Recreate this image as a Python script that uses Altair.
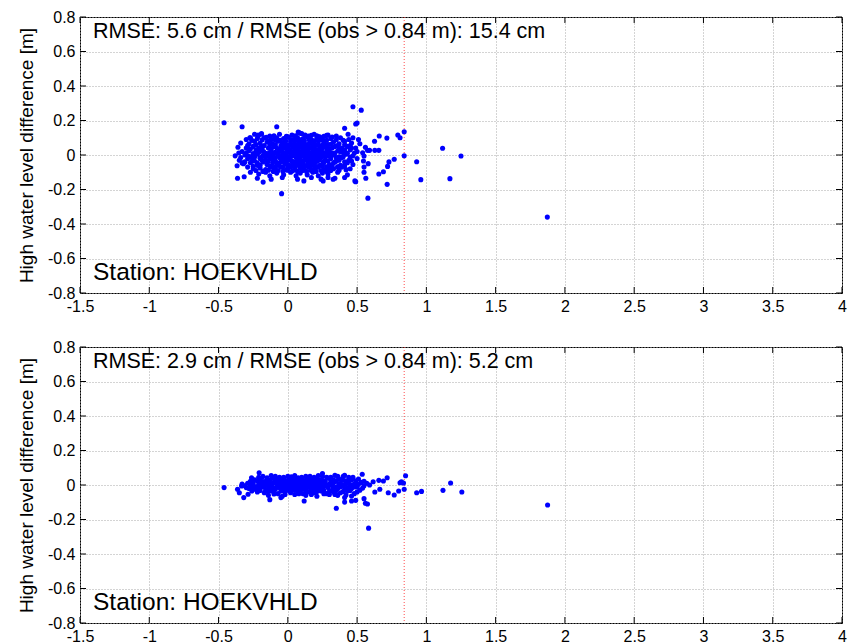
import altair as alt
import pandas as pd

x_ticks = [-1.5, -1, -0.5, 0, 0.5, 1, 1.5, 2, 2.5, 3, 3.5, 4]
y_ticks = [-0.8, -0.6, -0.4, -0.2, 0, 0.2, 0.4, 0.6, 0.8]
threshold = [0.84]
station_label = "Station: HOEKVHLD"
y_title = "High water level difference [m]"
rmse_labels = ["RMSE: 5.6 cm / RMSE (obs > 0.84 m): 15.4 cm",
               "RMSE: 2.9 cm / RMSE (obs > 0.84 m): 5.2 cm"]

# top panel: scattered points
top_outer = [(-0.46,0.187),(-0.33,0.164),(-0.08,0.164),(0.47,0.28),(0.53,0.26),(0.49,0.18),(0.50,0.185),
    (0.41,0.155),(0.435,0.12),(0.51,0.09),(0.66,0.11),(0.715,0.098),(0.794,0.116),(0.81,0.10),(0.84,0.135),
    (0.626,0.08),(0.84,-0.004),(1.117,0.039),(1.25,-0.006),(0.93,-0.039),(0.96,-0.143),(1.17,-0.137),
    (0.768,-0.025),(0.73,-0.04),(0.72,-0.066),(0.69,-0.097),(0.657,-0.11),(0.717,-0.17),(0.578,-0.25),
    (-0.045,-0.224),(0.484,-0.15),(0.49,-0.155),(0.563,-0.135),(0.55,-0.1),(0.55,-0.07),(0.58,-0.05),
    (0.546,-0.035),(0.575,0.027),(0.59,0.027),(0.628,0.027),(0.657,0.027),(0.54,0.013),(0.55,-0.006),
    (-0.363,-0.135),(-0.315,-0.126),(-0.366,-0.062),(-0.33,-0.046),(-0.315,-0.042),(-0.354,0.012),
    (-0.178,-0.157),(-0.274,0.10),(-0.214,0.116),(-0.19,0.12),(0.28,0.114),(0.075,0.133),(0.087,0.126),
    (0.17,0.114),(0.22,0.106),(0.327,-0.141),(0.34,-0.135),(0.255,-0.15),(0.116,-0.15),(0.41,-0.13),
    (0.42,-0.085),(0.36,-0.07),(1.873,-0.36)]

# top panel: dense core
top_core = [(-0.24,0.12),(-0.19,0.125),(-0.13,0.11),(-0.06,0.12),(0.03,0.115),(0.08,0.13),(0.10,0.125),
    (0.15,0.11),(0.19,0.12),(0.23,0.105),(0.29,0.115),(0.35,0.11),
    (-0.30,0.09),(-0.27,0.10),(-0.22,0.095),(-0.17,0.1),(-0.12,0.09),(-0.08,0.1),(-0.03,0.095),(0.0,0.105),
    (0.04,0.09),(0.07,0.1),(0.11,0.095),(0.14,0.105),(0.17,0.09),(0.21,0.1),(0.25,0.09),(0.31,0.095),
    (0.38,0.1),(0.44,0.09),(0.47,0.1),
    (-0.34,0.07),(-0.28,0.065),(-0.24,0.08),(-0.20,0.07),(-0.15,0.075),(-0.11,0.065),(-0.07,0.08),
    (-0.04,0.07),(-0.01,0.06),(0.02,0.075),(0.05,0.065),(0.08,0.08),(0.10,0.07),(0.13,0.06),(0.16,0.075),
    (0.19,0.065),(0.22,0.08),(0.26,0.07),(0.29,0.06),(0.33,0.075),(0.37,0.065),(0.41,0.08),(0.46,0.07),
    (0.52,0.065),
    (-0.36,0.045),(-0.30,0.04),(-0.25,0.05),(-0.21,0.04),(-0.17,0.055),(-0.14,0.04),(-0.10,0.05),
    (-0.06,0.035),(-0.03,0.05),(0.0,0.04),(0.03,0.055),(0.06,0.04),(0.09,0.05),(0.12,0.035),(0.14,0.05),
    (0.17,0.04),(0.20,0.055),(0.23,0.04),(0.27,0.05),(0.30,0.035),(0.34,0.05),(0.39,0.04),(0.43,0.05),
    (0.49,0.04),(0.56,0.045),
    (-0.33,0.02),(-0.28,0.025),(-0.23,0.015),(-0.19,0.03),(-0.16,0.01),(-0.12,0.025),(-0.09,0.015),
    (-0.05,0.03),(-0.02,0.01),(0.01,0.025),(0.04,0.015),(0.07,0.03),(0.09,0.01),(0.11,0.02),(0.13,0.03),
    (0.15,0.015),(0.18,0.025),(0.21,0.01),(0.24,0.03),(0.28,0.02),(0.32,0.01),(0.36,0.025),(0.40,0.015),
    (0.45,0.03),(0.50,0.02),
    (-0.38,-0.005),(-0.31,0.0),(-0.26,-0.01),(-0.22,0.005),(-0.18,-0.005),(-0.14,0.0),(-0.11,-0.01),
    (-0.07,0.005),(-0.04,-0.005),(-0.01,0.0),(0.02,-0.01),(0.05,0.005),(0.08,-0.005),(0.10,0.0),
    (0.12,-0.01),(0.14,0.005),(0.16,-0.005),(0.19,0.0),(0.22,-0.01),(0.25,0.005),(0.29,-0.005),(0.33,0.0),
    (0.37,-0.01),(0.42,0.005),(0.47,-0.005),
    (-0.35,-0.03),(-0.29,-0.02),(-0.24,-0.035),(-0.20,-0.015),(-0.16,-0.03),(-0.13,-0.02),(-0.09,-0.035),
    (-0.06,-0.015),(-0.03,-0.03),(0.0,-0.02),(0.03,-0.035),(0.06,-0.015),(0.08,-0.025),(0.11,-0.035),
    (0.13,-0.015),(0.16,-0.03),(0.18,-0.02),(0.21,-0.035),(0.24,-0.015),(0.27,-0.03),(0.31,-0.02),
    (0.35,-0.035),(0.39,-0.015),(0.44,-0.03),(0.50,-0.02),
    (-0.32,-0.05),(-0.27,-0.045),(-0.22,-0.06),(-0.18,-0.04),(-0.15,-0.055),(-0.11,-0.045),(-0.08,-0.06),
    (-0.05,-0.04),(-0.02,-0.05),(0.01,-0.06),(0.04,-0.045),(0.07,-0.055),(0.10,-0.04),(0.12,-0.06),
    (0.15,-0.045),(0.17,-0.055),(0.20,-0.04),(0.23,-0.06),(0.26,-0.045),(0.30,-0.055),(0.34,-0.04),
    (0.38,-0.06),(0.43,-0.045),(0.47,-0.055),
    (-0.29,-0.07),(-0.25,-0.08),(-0.20,-0.075),(-0.16,-0.085),(-0.12,-0.07),(-0.09,-0.08),(-0.05,-0.07),
    (-0.01,-0.085),(0.02,-0.07),(0.05,-0.08),(0.09,-0.075),(0.12,-0.085),(0.15,-0.07),(0.19,-0.08),
    (0.22,-0.07),(0.26,-0.085),(0.30,-0.075),(0.33,-0.08),(0.39,-0.07),(0.45,-0.08),
    (-0.27,-0.10),(-0.21,-0.11),(-0.16,-0.10),(-0.13,-0.12),(-0.08,-0.105),(-0.03,-0.115),(0.02,-0.10),
    (0.06,-0.12),(0.09,-0.105),(0.14,-0.115),(0.18,-0.10),(0.22,-0.12),(0.25,-0.105),(0.29,-0.11),
    (0.36,-0.10),(0.43,-0.115),
    (-0.22,-0.135),(-0.12,-0.14),(-0.04,-0.13),(0.07,-0.14),(0.17,-0.13),(0.24,-0.14),(0.29,-0.13)]

# top panel: dense core, in-between points
top_core2 = [(-0.215,0.108),(-0.155,0.102),(-0.10,0.112),(-0.01,0.108),(0.055,0.112),(0.125,0.115),
    (0.21,0.112),(0.26,0.108),(0.32,0.104),
    (-0.26,0.085),(-0.185,0.088),(-0.135,0.082),(-0.095,0.09),(-0.055,0.085),(-0.015,0.082),(0.02,0.09),
    (0.055,0.085),(0.09,0.088),(0.12,0.082),(0.155,0.088),(0.19,0.082),(0.235,0.088),(0.28,0.085),
    (0.35,0.088),(0.40,0.085),
    (-0.29,0.055),(-0.23,0.06),(-0.19,0.052),(-0.13,0.058),(-0.09,0.06),(-0.05,0.055),(-0.02,0.062),
    (0.015,0.058),(0.045,0.05),(0.075,0.06),(0.11,0.058),(0.15,0.062),(0.18,0.055),(0.22,0.06),(0.25,0.058),
    (0.31,0.062),(0.36,0.055),(0.41,0.06),(0.45,0.055),
    (-0.27,0.035),(-0.23,0.03),(-0.185,0.04),(-0.12,0.035),(-0.08,0.04),(-0.045,0.03),(-0.015,0.038),
    (0.015,0.032),(0.045,0.04),(0.075,0.035),(0.105,0.042),(0.135,0.035),(0.16,0.042),(0.19,0.035),
    (0.215,0.03),(0.25,0.038),(0.285,0.035),(0.32,0.04),(0.37,0.035),(0.41,0.03),(0.46,0.04),
    (-0.30,0.012),(-0.25,0.008),(-0.205,0.018),(-0.175,0.02),(-0.135,0.012),(-0.105,0.005),(-0.065,0.018),
    (-0.035,0.012),(0.0,0.018),(0.025,0.005),(0.055,0.02),(0.08,0.012),(0.10,0.022),(0.12,0.008),
    (0.14,0.02),(0.165,0.01),(0.195,0.015),(0.23,0.018),(0.26,0.01),(0.30,0.018),(0.34,0.012),(0.38,0.018),
    (0.43,0.01),(0.48,0.012),
    (-0.34,-0.015),(-0.28,-0.008),(-0.24,-0.012),(-0.20,-0.02),(-0.16,-0.012),(-0.125,-0.008),(-0.09,-0.015),
    (-0.055,-0.008),(-0.025,-0.015),(0.005,-0.01),(0.035,-0.005),(0.065,-0.012),(0.09,-0.015),
    (0.115,-0.005),(0.135,-0.018),(0.155,-0.012),(0.175,-0.008),(0.205,-0.015),(0.235,-0.005),
    (0.27,-0.012),(0.31,-0.008),(0.35,-0.015),(0.40,-0.01),(0.45,-0.012),
    (-0.31,-0.04),(-0.26,-0.035),(-0.22,-0.045),(-0.185,-0.03),(-0.145,-0.04),(-0.11,-0.03),(-0.075,-0.045),
    (-0.04,-0.035),(-0.01,-0.04),(0.015,-0.03),(0.045,-0.04),(0.07,-0.035),(0.095,-0.045),(0.125,-0.03),
    (0.145,-0.04),(0.17,-0.035),(0.195,-0.045),(0.225,-0.03),(0.255,-0.04),(0.29,-0.035),(0.33,-0.045),
    (0.37,-0.03),(0.41,-0.04),(0.46,-0.035),
    (-0.25,-0.065),(-0.20,-0.06),(-0.13,-0.065),(-0.095,-0.07),(-0.065,-0.06),(-0.035,-0.068),(0.0,-0.065),
    (0.03,-0.06),(0.055,-0.068),(0.085,-0.062),(0.11,-0.07),(0.14,-0.062),(0.16,-0.068),(0.19,-0.06),
    (0.215,-0.068),(0.25,-0.062),(0.28,-0.068),(0.32,-0.062),(0.36,-0.068),(0.41,-0.062),
    (-0.23,-0.09),(-0.18,-0.095),(-0.14,-0.088),(-0.105,-0.095),(-0.07,-0.09),(-0.035,-0.095),(0.0,-0.088),
    (0.035,-0.092),(0.07,-0.095),(0.105,-0.09),(0.135,-0.095),(0.165,-0.088),(0.205,-0.095),(0.24,-0.09),
    (0.28,-0.095),(0.31,-0.09),(0.37,-0.088)]

# bottom panel: scattered points
bot_outer = [(-0.46,-0.015),(-0.363,-0.025),(-0.35,-0.045),(-0.318,-0.073),(-0.287,-0.054),(-0.334,-0.006),
    (-0.207,0.071),(-0.262,0.042),(-0.13,-0.085),(-0.05,-0.073),(0.118,-0.093),(0.25,0.066),(0.34,0.056),
    (0.41,0.056),(0.537,0.062),(0.35,-0.135),(0.41,-0.073),(0.41,-0.099),(0.46,-0.064),(0.46,-0.093),
    (0.49,-0.089),(0.55,-0.079),(0.56,-0.106),(0.575,-0.11),(0.583,-0.25),(0.628,-0.041),(0.616,0.019),
    (0.657,0.027),(0.69,0.023),(0.717,0.042),(0.664,-0.025),(0.725,-0.045),(0.768,-0.058),(0.8,-0.035),
    (0.81,0.013),(0.82,0.019),(0.84,-0.025),(0.85,0.054),(0.93,-0.045),(0.965,-0.037),(1.12,-0.031),
    (1.175,0.012),(1.256,-0.041),(1.875,-0.116),(0.835,0.012)]

# bottom panel: dense core
bot_core = [(-0.18,0.05),(-0.12,0.055),(-0.06,0.045),(0.0,0.05),(0.05,0.055),(0.10,0.045),(0.16,0.05),
    (0.22,0.055),(0.28,0.045),(0.40,0.05),(0.47,0.045),
    (-0.24,0.03),(-0.20,0.035),(-0.15,0.025),(-0.11,0.04),(-0.07,0.03),(-0.03,0.035),(0.0,0.025),
    (0.03,0.04),(0.06,0.03),(0.09,0.035),(0.12,0.025),(0.15,0.04),(0.18,0.03),(0.21,0.035),(0.25,0.025),
    (0.29,0.04),(0.33,0.03),(0.37,0.035),(0.42,0.025),(0.46,0.03),(0.51,0.035),
    (-0.29,0.01),(-0.25,0.015),(-0.21,0.005),(-0.17,0.02),(-0.13,0.01),(-0.10,0.015),(-0.06,0.005),
    (-0.03,0.02),(0.0,0.01),(0.02,0.015),(0.05,0.005),(0.08,0.02),(0.10,0.01),(0.13,0.015),(0.16,0.005),
    (0.19,0.02),(0.22,0.01),(0.26,0.015),(0.30,0.005),(0.34,0.02),(0.38,0.01),(0.43,0.015),(0.48,0.005),
    (0.53,0.015),(0.57,0.01),
    (-0.31,-0.005),(-0.27,0.0),(-0.23,-0.01),(-0.19,-0.005),(-0.15,0.0),(-0.12,-0.01),(-0.08,-0.005),
    (-0.05,0.0),(-0.02,-0.01),(0.01,-0.005),(0.04,0.0),(0.07,-0.01),(0.09,-0.005),(0.12,0.0),(0.14,-0.01),
    (0.17,-0.005),(0.20,0.0),(0.24,-0.01),(0.27,-0.005),(0.31,0.0),(0.35,-0.01),(0.40,-0.005),(0.45,0.0),
    (0.50,-0.01),(0.55,-0.005),
    (-0.28,-0.02),(-0.24,-0.025),(-0.20,-0.015),(-0.16,-0.03),(-0.13,-0.02),(-0.09,-0.025),(-0.06,-0.015),
    (-0.03,-0.03),(0.0,-0.02),(0.03,-0.025),(0.06,-0.015),(0.08,-0.03),(0.11,-0.02),(0.13,-0.025),
    (0.16,-0.015),(0.19,-0.03),(0.22,-0.02),(0.25,-0.025),(0.29,-0.015),(0.32,-0.03),(0.36,-0.02),
    (0.41,-0.025),(0.46,-0.02),(0.52,-0.03),
    (-0.22,-0.04),(-0.17,-0.045),(-0.12,-0.035),(-0.07,-0.05),(-0.02,-0.04),(0.02,-0.045),(0.07,-0.035),
    (0.11,-0.05),(0.15,-0.04),(0.19,-0.045),(0.24,-0.035),(0.28,-0.05),(0.33,-0.04),(0.38,-0.045),
    (0.43,-0.035),(0.48,-0.05),
    (-0.14,-0.06),(-0.04,-0.065),(0.05,-0.055),(0.13,-0.06),(0.21,-0.065),(0.30,-0.055),(0.36,-0.06)]

# bottom panel: dense core, in-between points
bot_core2 = [(-0.21,0.045),(-0.15,0.042),(-0.09,0.05),(-0.03,0.045),(0.025,0.048),(0.075,0.042),(0.13,0.05),
    (0.19,0.045),(0.25,0.05),(0.31,0.045),(0.36,0.05),(0.44,0.045),
    (-0.27,0.022),(-0.22,0.025),(-0.185,0.02),(-0.13,0.028),(-0.09,0.022),(-0.05,0.025),(-0.015,0.02),
    (0.015,0.028),(0.045,0.022),(0.075,0.025),(0.105,0.03),(0.135,0.02),(0.165,0.028),(0.195,0.022),
    (0.23,0.028),(0.27,0.022),(0.31,0.025),(0.35,0.022),(0.395,0.028),(0.44,0.022),(0.49,0.025),(0.55,0.022),
    (-0.33,0.005),(-0.25,0.002),(-0.20,0.008),(-0.165,0.0),(-0.115,0.005),(-0.07,0.008),(-0.035,0.002),
    (-0.01,0.005),(0.02,0.0),(0.055,0.008),(0.085,0.002),(0.11,0.005),(0.145,0.0),(0.18,0.008),(0.21,0.002),
    (0.245,0.005),(0.285,0.0),(0.325,0.008),(0.37,0.002),(0.415,0.005),(0.46,0.0),(0.51,0.005),(0.59,0.0),
    (-0.30,-0.015),(-0.26,-0.01),(-0.215,-0.018),(-0.175,-0.012),(-0.14,-0.01),(-0.105,-0.018),
    (-0.065,-0.012),(-0.04,-0.018),(-0.01,-0.012),(0.02,-0.015),(0.05,-0.01),(0.08,-0.018),(0.10,-0.012),
    (0.125,-0.015),(0.155,-0.01),(0.185,-0.015),(0.215,-0.01),(0.255,-0.015),(0.29,-0.01),(0.33,-0.015),
    (0.38,-0.012),(0.43,-0.015),(0.48,-0.012),(0.54,-0.018),
    (-0.26,-0.035),(-0.20,-0.032),(-0.145,-0.038),(-0.10,-0.032),(-0.05,-0.035),(-0.01,-0.03),
    (0.015,-0.035),(0.045,-0.03),(0.09,-0.038),(0.13,-0.032),(0.17,-0.035),(0.21,-0.038),(0.26,-0.032),
    (0.30,-0.038),(0.35,-0.032),(0.40,-0.038),(0.45,-0.032),(0.50,-0.04),
    (-0.10,-0.052),(-0.02,-0.055),(0.08,-0.05),(0.17,-0.055),(0.26,-0.05),(0.34,-0.055),(0.42,-0.058)]

W, H = 762, 276
FONT = "Liberation Sans"

xs = alt.Scale(domain=[-1.5, 4], nice=False, zero=False)
ys = alt.Scale(domain=[-0.8, 0.8], nice=False, zero=False)
xax = alt.Axis(values=x_ticks, title=None, labelExpr="'' + datum.value")
yax = alt.Axis(values=y_ticks, title=y_title, labelExpr="'' + datum.value")


def panel(points, rmse):
    df = pd.DataFrame(points, columns=["obs", "diff"])
    xdf = pd.DataFrame({"obs": x_ticks})
    ydf = pd.DataFrame({"diff": y_ticks})
    tdf = pd.DataFrame({"obs": threshold})

    X = alt.X("obs:Q", scale=xs, axis=xax)
    Y = alt.Y("diff:Q", scale=ys, axis=yax)

    pts = alt.Chart(df).mark_circle(size=26, color="#0000ff", opacity=1).encode(x=X, y=Y)
    red = alt.Chart(tdf).mark_rule(color="#ff2020", strokeDash=[1, 2], strokeWidth=1, opacity=0.8).encode(x=X)
    tb = alt.Chart(xdf).mark_rule(color="black").encode(x=X, y=alt.value(H), y2=alt.value(H - 6))
    tt = alt.Chart(xdf).mark_rule(color="black").encode(x=X, y=alt.value(0), y2=alt.value(6))
    tl = alt.Chart(ydf).mark_rule(color="black").encode(y=Y, x=alt.value(0), x2=alt.value(6))
    tr = alt.Chart(ydf).mark_rule(color="black").encode(y=Y, x=alt.value(W), x2=alt.value(W - 6))
    t1 = alt.Chart(pd.DataFrame({"label": [rmse]})).mark_text(
        align="left", baseline="middle", fontSize=21.5, font=FONT, color="black"
    ).encode(x=alt.value(13), y=alt.value(15), text="label:N")
    t2 = alt.Chart(pd.DataFrame({"label": [station_label]})).mark_text(
        align="left", baseline="middle", fontSize=24.5, font=FONT, color="black"
    ).encode(x=alt.value(13), y=alt.value(256), text="label:N")
    return alt.layer(red, pts, tb, tt, tl, tr, t1, t2).properties(width=W, height=H)


top = panel(top_outer + top_core + top_core2, rmse_labels[0])
bottom = panel(bot_outer + bot_core + bot_core2, rmse_labels[1])

chart = alt.vconcat(top, bottom, spacing=23).properties(
    padding={"left": 8, "top": 0, "right": 5, "bottom": 0}
).configure_view(stroke="black", strokeWidth=1).configure_axis(
    grid=True, gridColor="#a8a8a8", gridDash=[1, 2], gridWidth=1,
    ticks=False, domain=False,
    labelFont=FONT, labelFontSize=16, labelColor="black", labelPadding=5,
    labelFlush=False, labelOverlap=False, labelBound=False,
    titleFont=FONT, titleFontSize=19, titleFontWeight="normal", titleColor="black", titlePadding=11,
)

chart.save("out.html", embed_options={"renderer": "svg", "actions": False})
